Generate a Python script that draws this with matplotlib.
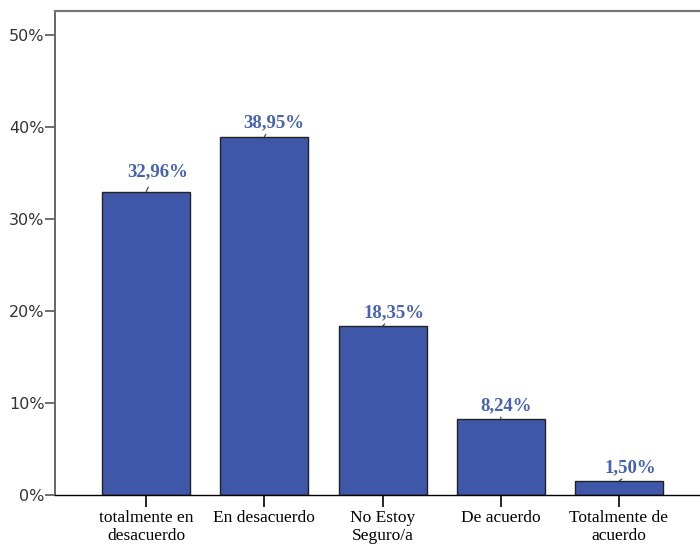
import numpy as np
import matplotlib.pyplot as plt

categories = ['totalmente en\ndesacuerdo', 'En desacuerdo', 'No Estoy\nSeguro/a',
              'De acuerdo', 'Totalmente de\nacuerdo']
percentages = [32.96, 38.95, 18.35, 8.24, 1.50]
value_labels = ['32,96%', '38,95%', '18,35%', '8,24%', '1,50%']
y_ticks = [0, 10, 20, 30, 40, 50]

# label offsets above bar tops, in points (layout only)
label_dy = [11, 6.5, 6.5, 6.5, 6.5]
label_dx = [8, 7, 8, 4, 8.5]

bar_color = '#3E57A9'
label_color = '#4862B2'

fig = plt.figure(figsize=(7, 5.45), dpi=100)
ax = fig.add_axes([0.0786, 0.0917, 0.93, 0.888])

x = np.arange(len(categories))
ax.bar(x, percentages, width=0.745, color=bar_color, edgecolor='#222222', linewidth=1.0, zorder=2)

for xi, v, lab, dx, dy in zip(x, percentages, value_labels, label_dx, label_dy):
    ax.annotate(lab, xy=(xi, v), xytext=(dx, dy), textcoords='offset points',
                ha='center', va='baseline', fontsize=13.5, fontweight='bold',
                family='Liberation Serif', color=label_color,
                arrowprops=dict(arrowstyle='-', color='#333333', lw=0.8,
                                relpos=(0.4, 0), shrinkA=3, shrinkB=0))

ax.set_xlim(-0.771, 4.737)
ax.set_ylim(0, 52.6)
ax.set_yticks(y_ticks)
ax.set_yticklabels([f'{t}%' for t in y_ticks], fontsize=11.5, color='#333333')
ax.set_xticks(x)
ax.set_xticklabels(categories, fontsize=12.5, family='Liberation Serif', linespacing=1.1)

ax.spines['right'].set_visible(False)
ax.spines['left'].set_color('#666666')
ax.spines['top'].set_color('#777777')
ax.spines['left'].set_linewidth(1.4)
ax.spines['top'].set_linewidth(1.6)
ax.spines['bottom'].set_color('black')
ax.spines['bottom'].set_linewidth(1.0)

ax.tick_params(axis='y', length=7, width=1.2, color='#555555', pad=0.5)
ax.tick_params(axis='x', length=8.5, width=1.2, color='black', pad=2.5)

fig.savefig('out.png', dpi=100)
